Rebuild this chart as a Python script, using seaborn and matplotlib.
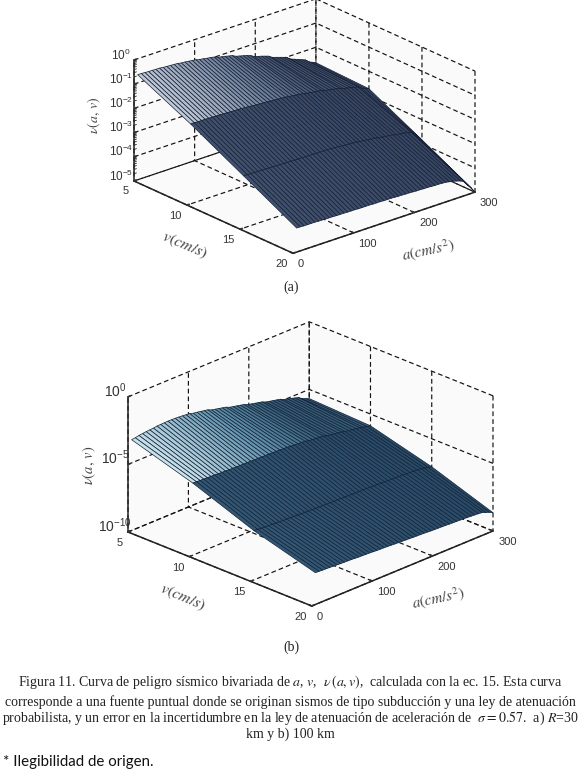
import numpy as np
import matplotlib
matplotlib.use('Agg')
import matplotlib.pyplot as plt
from mpl_toolkits.mplot3d import proj3d
import seaborn as sns

sns.set_theme(style='white')
plt.rcParams['font.family'] = ['Liberation Sans', 'DejaVu Sans']
plt.rcParams['mathtext.fontset'] = 'stix'

W, H = 580, 773

a_vals = np.arange(6, 301, 6)
v_vals = np.array([5, 10, 15, 20])

# panel (a), log10 of nu along a, one list per v row
za_v5 = [-0.66,-0.66,-0.67,-0.68,-0.68,-0.69,-0.69,-0.71,-0.72,-0.73,-0.74,-0.75,-0.78,-0.79,-0.81,-0.83,-0.85,
         -0.89,-0.91,-0.94,-0.96,-0.99,-1.05,-1.08,-1.11,-1.15,-1.18,-1.26,-1.30,-1.34,-1.38,-1.43,-1.52,
         -1.57,-1.61,-1.66,-1.71,-1.81,-1.86,-1.91,-1.96,-2.02,-2.13,-2.19,-2.25,-2.31,-2.37,-2.50,-2.57,-2.64]
za_v10 = [-1.70,-1.70,-1.71,-1.71,-1.71,-1.72,-1.72,-1.73,-1.73,-1.74,-1.74,-1.75,-1.76,-1.76,-1.77,-1.78,-1.79,
          -1.81,-1.82,-1.83,-1.84,-1.85,-1.87,-1.88,-1.89,-1.90,-1.91,-1.93,-1.95,-1.97,-1.99,-2.01,-2.05,
          -2.07,-2.09,-2.11,-2.14,-2.19,-2.21,-2.24,-2.27,-2.30,-2.36,-2.39,-2.42,-2.46,-2.50,-2.60,-2.66,-2.72]
za_v15 = [-2.85,-2.85,-2.86,-2.86,-2.87,-2.87,-2.87,-2.88,-2.88,-2.89,-2.89,-2.89,-2.90,-2.90,-2.91,-2.91,-2.91,
          -2.92,-2.92,-2.92,-2.93,-2.93,-2.93,-2.94,-2.94,-2.95,-2.96,-2.98,-2.99,-3.00,-3.01,-3.02,-3.05,
          -3.06,-3.08,-3.10,-3.11,-3.15,-3.17,-3.19,-3.21,-3.23,-3.27,-3.29,-3.31,-3.34,-3.38,-3.52,-3.66,-3.84]
za_v20 = [-4.01,-4.01,-4.02,-4.02,-4.02,-4.02,-4.03,-4.03,-4.04,-4.04,-4.04,-4.05,-4.05,-4.05,-4.06,-4.06,-4.06,
          -4.07,-4.07,-4.07,-4.07,-4.08,-4.08,-4.08,-4.09,-4.09,-4.09,-4.10,-4.11,-4.11,-4.12,-4.12,-4.13,
          -4.14,-4.14,-4.15,-4.15,-4.16,-4.17,-4.17,-4.18,-4.19,-4.22,-4.25,-4.29,-4.34,-4.41,-4.62,-4.78,-5.00]

# panel (b)
zb_v5 = [-3.28,-3.25,-3.19,-3.16,-3.13,-3.11,-3.09,-3.05,-3.04,-3.03,-3.02,-3.02,-3.03,-3.05,-3.07,-3.10,-3.13,
         -3.21,-3.25,-3.30,-3.35,-3.40,-3.52,-3.58,-3.64,-3.70,-3.76,-3.88,-3.94,-4.00,-4.06,-4.12,-4.24,
         -4.30,-4.36,-4.42,-4.48,-4.60,-4.66,-4.72,-4.78,-4.84,-4.97,-5.04,-5.11,-5.19,-5.27,-5.46,-5.57,-5.68]
zb_v10 = [-4.67,-4.68,-4.70,-4.71,-4.72,-4.73,-4.74,-4.76,-4.77,-4.78,-4.79,-4.80,-4.81,-4.81,-4.82,-4.82,-4.83,
          -4.84,-4.84,-4.85,-4.85,-4.86,-4.87,-4.88,-4.89,-4.90,-4.91,-4.94,-4.96,-4.98,-5.00,-5.02,-5.08,
          -5.11,-5.14,-5.17,-5.20,-5.28,-5.32,-5.36,-5.40,-5.44,-5.52,-5.56,-5.60,-5.64,-5.68,-5.76,-5.81,-5.87]
zb_v15 = [-6.37,-6.38,-6.41,-6.43,-6.44,-6.45,-6.47,-6.49,-6.50,-6.51,-6.52,-6.53,-6.55,-6.56,-6.57,-6.58,-6.59,
          -6.61,-6.61,-6.62,-6.62,-6.63,-6.64,-6.64,-6.65,-6.65,-6.66,-6.67,-6.67,-6.68,-6.68,-6.69,-6.71,
          -6.72,-6.73,-6.74,-6.75,-6.77,-6.78,-6.79,-6.80,-6.81,-6.83,-6.84,-6.85,-6.87,-6.89,-6.96,-7.01,-7.08]
zb_v20 = [-7.65,-7.66,-7.68,-7.69,-7.70,-7.72,-7.73,-7.75,-7.76,-7.77,-7.78,-7.80,-7.82,-7.83,-7.84,-7.85,-7.87,
          -7.89,-7.90,-7.91,-7.92,-7.94,-7.96,-7.97,-7.98,-8.00,-8.01,-8.03,-8.04,-8.05,-8.06,-8.08,-8.10,
          -8.11,-8.12,-8.13,-8.14,-8.16,-8.17,-8.18,-8.19,-8.20,-8.22,-8.24,-8.26,-8.28,-8.31,-8.42,-8.51,-8.65]

a_ticks = [0, 100, 200, 300]
v_ticks = [5, 10, 15, 20]
za_ticks = [0, -1, -2, -3, -4, -5]
zb_ticks = [0, -5, -10]

caption = ['Figura 11. Curva de peligro sísmico bivariada de $a$, $v$,  $\\nu\\,(a,v)$,  calculada con la ec. 15. Esta curva',
           'corresponde a una fuente puntual donde se originan sismos de tipo subducción y una ley de atenuación',
           'probabilista, y un error en la incertidumbre en la ley de atenuación de aceleración de  $\\sigma=0.57$.  a) $R$=30',
           'km y b) 100 km']


def corner_px(ax, x, y, z):
    x2, y2, _ = proj3d.proj_transform(x, y, z, ax.get_proj())
    return ax.transData.transform((x2, y2))


def fit_axes(ax, p0, t0, p1, t1):
    # scale and shift the square axes so two box corners land on pixel targets (y down)
    ax.apply_aspect()
    q0, q1 = corner_px(ax, *p0), corner_px(ax, *p1)
    pos = ax.get_position()
    k = abs(t1[0] - t0[0]) / abs(q1[0] - q0[0])
    new_size = pos.width * W * k
    rx, ry = (q0[0] - pos.x0 * W) * k, (q0[1] - pos.y0 * H) * k
    new_left = t0[0] - rx
    new_bottom = (H - t0[1]) - ry
    ax.set_position([new_left / W, new_bottom / H, new_size / W, new_size / H])


def draw_panel(rows, zlim, zticks, azim, elev, box, cols, targets, zsize, minor_z=False):
    ax = fig.add_axes([0.1, 0.1, 0.6, 0.6 * W / H], projection='3d', proj_type='ortho', computed_zorder=False)
    ax.patch.set_alpha(0)
    ax.set_box_aspect(box)
    ax.view_init(elev=elev, azim=azim)

    A, V = np.meshgrid(a_vals, v_vals)
    Z = np.array(rows)

    # facet colours: first strip is lit and fades along a, the rest stay dark
    cmap = sns.blend_palette(cols[1:], as_cmap=True)
    shade = np.zeros(Z.shape)
    shade[0] = np.clip(1.0 - a_vals / 270, 0.18, 1)
    shade[1:] = 0.16 - 0.08 * a_vals / 300
    ax.plot_surface(A, V, Z, facecolors=cmap(shade), rstride=1, cstride=1, shade=False,
                    edgecolor=cols[0], linewidth=0.5, antialiased=True, zorder=5)

    ax.set_xlim(0, 300)
    ax.set_ylim(20, 5)
    ax.set_zlim(zlim)
    ax.set_xticks(a_ticks)
    ax.set_yticks(v_ticks)
    ax.set_zticks(zticks)
    ax.set_zticklabels(['$\\mathdefault{10^{%d}}$' % t for t in zticks])

    for axis in (ax.xaxis, ax.yaxis, ax.zaxis):
        axis.set_pane_color((0.98, 0.98, 0.98, 1))
        axis.pane.set_edgecolor('none')
        axis.line.set_color('#222222')
        axis.line.set_linewidth(1.1)
        axis._axinfo['grid'].update(color='#111111', linewidth=0.85, linestyle=(0, (4, 2.6)))
        axis._axinfo['tick'].update(inward_factor=0.0, outward_factor=0.15)
        axis.set_tick_params(labelsize=8, colors='#333333', pad=-4)
    ax.zaxis.set_tick_params(labelsize=zsize, pad=-3)
    ax.grid(True)

    if minor_z:
        # log minor ticks on the z axis
        for dec in range(-5, 0):
            for m in range(2, 10):
                lz = dec + np.log10(m)
                ax.plot([0, 4], [5, 5], [lz, lz], color='#222222', lw=0.6, zorder=2)

    fig.canvas.draw()
    for lab in ax.get_xticklabels():
        lab.set_ha('left')
    for lab in ax.get_yticklabels():
        lab.set_ha('right')
    for lab in ax.get_zticklabels():
        lab.set_va('baseline')
    fit_axes(ax, (0, 5, zlim[0]), targets[0], (300, 20, zlim[0]), targets[1])
    return ax


fig = plt.figure(figsize=(W / 100, H / 100), dpi=100, facecolor='white')

draw_panel([za_v5, za_v10, za_v15, za_v20], (-5, 0), za_ticks, -130.7, 23, (240, 244, 131.5),
           ['#161f34', '#2c3b58', '#6d7f9a', '#c2ccd9'], [(134, 181), (475, 192)], 8.5, minor_z=True)
draw_panel([zb_v5, zb_v10, zb_v15, zb_v20], (-10, 0), zb_ticks, -135.4, 24.1, (258, 258, 148),
           ['#10233a', '#1f3c59', '#5f90aa', '#cfe5ee'], [(128, 532), (493, 531)], 10)


def txt(x, y, s, **kw):
    kw.setdefault('ha', 'center')
    kw.setdefault('va', 'center')
    return fig.text(x / W, 1 - y / H, s, **kw)


grey = '#444444'
txt(94, 115, '$\\nu(a,\\,v)$', rotation=90, color=grey, fontsize=10)
txt(185, 245, '$v(cm/s)$', rotation=-23, color=grey, fontsize=11.5)
txt(428, 250, '$a(cm/s^2)$', rotation=12, color=grey, fontsize=11)
txt(89, 465, '$\\nu(a,\\,v)$', rotation=90, color=grey, fontsize=10.5)
txt(183, 597, '$v(cm/s)$', rotation=-23, color=grey, fontsize=11.5)
txt(438, 598, '$a(cm/s^2)$', rotation=12, color=grey, fontsize=11)

txt(291, 287, '(a)', family='Liberation Serif', fontsize=10, color='#222222')
txt(291, 647, '(b)', family='Liberation Serif', fontsize=10, color='#222222')

for y, line in zip([682, 702, 718, 734], caption):
    txt(290, y, line, family='Liberation Serif', fontsize=10, color='#222222')
txt(3, 762, '* Ilegibilidad de origen.', family='Lato', fontsize=10.8, color='#111111', ha='left')

fig.savefig('out.png', dpi=100, facecolor='white')
